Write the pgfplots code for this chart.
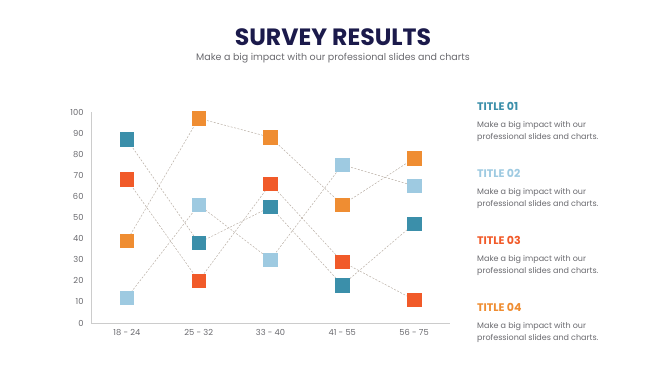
\documentclass[border=0pt]{standalone}
\usepackage{pgfplots}
\pgfplotsset{compat=1.18}
\usepackage{fontspec}
\setmainfont{Poppins}
\definecolor{cA}{RGB}{59,143,170}
\definecolor{cB}{RGB}{158,202,225}
\definecolor{cC}{RGB}{241,90,41}
\definecolor{cD}{RGB}{239,141,50}
\definecolor{navy}{RGB}{27,26,75}
\definecolor{txt}{RGB}{105,105,110}
\definecolor{dash}{RGB}{185,175,165}
\begin{document}
\begin{tikzpicture}
\useasboundingbox (0,0) rectangle (666pt,374pt);
\node[font=\fontsize{23.6}{26}\selectfont\bfseries, text=navy] at (333pt,337pt) {SURVEY RESULTS};
\node[font=\fontsize{9.5}{11}\selectfont, text=txt] at (333pt,315.5pt) {Make a big impact with our professional slides and charts};
\begin{axis}[
  at={(91pt,51pt)}, anchor=south west,
  scale only axis, width=359pt, height=211pt,
  xmin=-0.5, xmax=4.5, ymin=0, ymax=100,
  axis x line=bottom, axis y line=left,
  axis line style={-, draw=black!20, line width=0.8pt},
  xtick={0,1,2,3,4},
  xticklabels={18 - 24, 25 - 32, 33 - 40, 41 - 55, 56 - 75},
  ytick={0,10,...,100},
  major tick length=0pt,
  /pgf/number format/assume math mode=true,
  tick label style={font=\fontsize{8.3}{10}\selectfont, text=txt},
  yticklabel style={xshift=-4pt},
  xticklabel style={yshift=-3pt},
  every axis plot/.append style={dash pattern=on 2pt off 1.5pt, draw=dash, line width=0.5pt},
  clip=false,
]
\addplot[mark=square*, mark size=6.8pt, mark options={solid, fill=cA, draw=cA}] coordinates {(0,87) (1,38) (2,55) (3,18) (4,47)};
\addplot[mark=square*, mark size=6.8pt, mark options={solid, fill=cB, draw=cB}] coordinates {(0,12) (1,56) (2,30) (3,75) (4,65)};
\addplot[mark=square*, mark size=6.8pt, mark options={solid, fill=cC, draw=cC}] coordinates {(0,68) (1,20) (2,66) (3,29) (4,11)};
\addplot[mark=square*, mark size=6.8pt, mark options={solid, fill=cD, draw=cD}] coordinates {(0,39) (1,97) (2,88) (3,56) (4,78)};
\end{axis}
\foreach \t/\c [count=\i from 0] in {TITLE 01/cA, TITLE 02/cB, TITLE 03/cC, TITLE 04/cD}{
  \node[anchor=west, inner sep=0pt, font=\fontsize{11}{13}\selectfont\bfseries, text=\c] at (477pt,{268pt-\i*67pt}) {\t};
  \node[anchor=north west, inner sep=0pt, align=left, font=\fontsize{8}{12.5}\selectfont, text=txt] at (477pt,{253pt-\i*67pt}) {Make a big impact with our\\professional slides and charts.};
}
\end{tikzpicture}
\end{document}
